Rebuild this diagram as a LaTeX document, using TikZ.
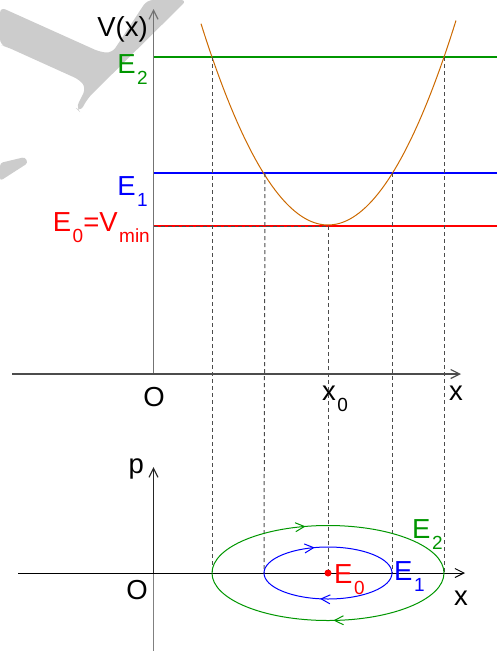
\documentclass[tikz,border=0pt]{standalone}
\usepackage{fontspec}
\setmainfont{Liberation Sans}
\usepackage{xcolor}
\usetikzlibrary{arrows.meta,decorations.markings}

\definecolor{lvltwo}{RGB}{0,150,0}
\definecolor{lvlone}{RGB}{0,0,255}
\definecolor{lvlzero}{RGB}{255,0,0}
\definecolor{potcol}{RGB}{204,105,0}
\definecolor{wmark}{RGB}{204,204,204}

\newcommand\lowsub[1]{\kern1.5pt\raisebox{-0.42em}{\fontsize{19}{19}\selectfont #1}}

\begin{document}
\begin{tikzpicture}[
  x=1pt, y=-1pt,
  font=\fontsize{27.5}{31}\selectfont,
  axis/.style={line width=1.2pt, -{Straight Barb[length=9pt,width=9pt]}},
  level/.style={line width=1.1pt},
  guide/.style={line width=1pt, dash pattern=on 4pt off 3pt, black!70},
  lbl/.style={inner sep=0pt},
  orbit/.style 2 args={line width=1pt, postaction={decorate},
    decoration={markings,
      mark=at position #1 with {\arrow{Straight Barb[length=9pt,width=9pt]}},
      mark=at position #2 with {\arrow{Straight Barb[length=9pt,width=9pt]}}}},
]
\useasboundingbox (0,0) rectangle (497,651);

\fill[wmark, rounded corners=6pt] (0,7) -- (100,52) -- (112,53) -- (147,0) -- (187,0)
  -- (88,98) -- (80,112) -- (76,108) -- (86,88) -- (80,80) -- (7,47) -- (0,45) -- cycle;
\fill[wmark, rounded corners=3pt] (0,163) -- (25,157) -- (28,163) -- (0,181) -- cycle;

% potential
\coordinate (vo) at (153.5,374);
\coordinate (vtop) at (153.5,9);
\coordinate (vleft) at (12,374);
\coordinate (vright) at (461,374);
\draw[axis, black!55] (vo) -- (vtop);
\draw[axis, black!70] (vleft) -- (vright);

\coordinate (e2a) at (153.5,57);  \coordinate (e2b) at (497,57);
\coordinate (e1a) at (153.5,173); \coordinate (e1b) at (497,173);
\coordinate (e0a) at (153.5,226); \coordinate (e0b) at (497,226);
\draw[level, lvltwo] (e2a) -- (e2b);
\draw[level, lvlone] (e1a) -- (e1b);
\draw[level, lvlzero] (e0a) -- (e0b);

\draw[line width=1pt, potcol] plot[domain=201:456, samples=80]
  (\x, {225-0.012485*(\x-328)*(\x-328)});

\coordinate (a2l) at (212,57);  \coordinate (a2r) at (444,57);
\coordinate (a1l) at (265,173); \coordinate (a1r) at (392,173);
\coordinate (a0) at (328,226);
\draw[guide] (e0a) -- (a0);

\node[lbl, anchor=base east] (vlab) at (148,36) {V(x)};
\node[lbl, anchor=base east, lvltwo] (e2lab) at (148,73) {E\lowsub{2}};
\node[lbl, anchor=base east, lvlone] (e1lab) at (148,195) {E\lowsub{1}};
\node[lbl, anchor=base east, lvlzero] (e0lab) at (150,231)
  {E\lowsub{0}=V\lowsub{min}};
\node[lbl, anchor=base] (olab) at (154,406) {O};
\node[lbl, anchor=base west] (x0lab) at (322,400) {x\lowsub{0}};
\node[lbl, anchor=base west] (xlab) at (449,400) {x};

% phase plane
\coordinate (po) at (153.5,573);
\coordinate (pbot) at (153.5,651);
\coordinate (ptop) at (153.5,467);
\coordinate (pleft) at (18,573);
\coordinate (pright) at (465,573);
\draw[line width=1.1pt, black!50] (po) -- (pbot);
\draw[axis, black!85] (po) -- (ptop);
\draw[line width=1pt, -{Straight Barb[length=9pt,width=9pt]}] (pleft) -- (pright);

\coordinate (b2l) at (212,573); \coordinate (b2r) at (444,573);
\coordinate (b1l) at (264,573); \coordinate (b1r) at (392,573);
\draw[guide] (a2l) -- (b2l);
\draw[guide] (a2r) -- (b2r);
\draw[guide] (a1l) -- (b1l);
\draw[guide] (a1r) -- (b1r);

\draw[orbit={0.208}{0.74}, lvltwo] (b2l)
  arc[start angle=180, end angle=540, x radius=116, y radius=47.5];
\draw[orbit={0.205}{0.777}, lvlone] (b1l)
  arc[start angle=180, end angle=540, x radius=64, y radius=26];

\node[circle, fill=lvlzero, inner sep=0pt, minimum size=7pt] (dot) at (328,573) {};
\draw[guide] (a0) -- (dot);

\node[lbl, anchor=base east] (plab) at (144,473) {p};
\node[lbl, anchor=base] (o2lab) at (137,599) {O};
\node[lbl, anchor=base west] (x2lab) at (454,605) {x};
\node[lbl, anchor=base west, lvlzero] (e0pt) at (334,583) {E\lowsub{0}};
\node[lbl, anchor=base west, lvlone] (e1pt) at (394,580) {E\lowsub{1}};
\node[lbl, anchor=base west, lvltwo] (e2pt) at (412,538) {E\lowsub{2}};

\end{tikzpicture}
\end{document}
